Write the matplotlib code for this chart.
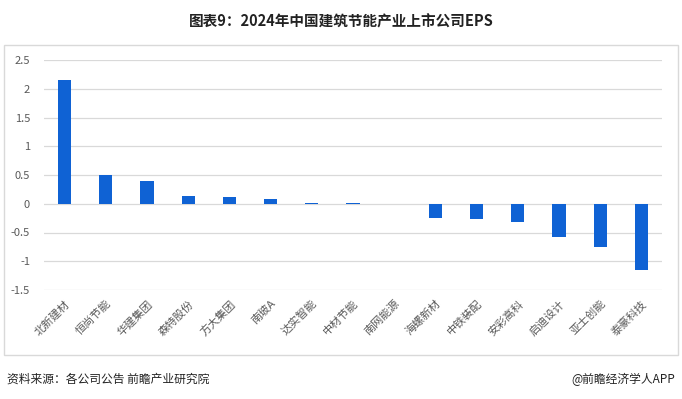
import matplotlib.pyplot as plt
import numpy as np
from matplotlib.patches import Rectangle

plt.rcParams['font.family'] = ['Noto Sans CJK SC', 'DejaVu Sans']

companies = ['北新建材', '恒尚节能', '华建集团', '森特股份', '方大集团', '南玻A', '达实智能',
             '中材节能', '南网能源', '海螺新材', '中铁装配', '安彩高科', '启迪设计', '亚士创能', '泰豪科技']
eps = [2.15, 0.50, 0.40, 0.14, 0.12, 0.09, 0.02, 0.02, 0.0, -0.24, -0.26, -0.31, -0.57, -0.76, -1.16]
yticks = [-1.5, -1, -0.5, 0, 0.5, 1, 1.5, 2, 2.5]

W, H = 682, 399
fig = plt.figure(figsize=(W / 100, H / 100), dpi=100)

# outer frame
fig.patches.append(Rectangle((4 / W, 1 - 355 / H), 674 / W, 310 / H, transform=fig.transFigure,
                             fill=False, edgecolor='#D9D9D9', linewidth=1))

fig.text(0.5, 1 - 22 / H, '图表9：2024年中国建筑节能产业上市公司EPS', ha='center', va='center',
         fontsize=10.5, fontweight='bold', color='#222222')

ax = fig.add_axes([44 / W, 1 - 290 / H, 618 / W, 230 / H])
x = np.arange(len(companies))
ax.bar(x, eps, width=0.32, color='#0F62D4', zorder=3)
ax.set_xlim(-0.5, len(companies) - 0.5)
ax.set_ylim(-1.5, 2.5)
ax.set_yticks(yticks)
ax.set_yticklabels([f'{v:g}' for v in yticks], fontsize=8, color='#595959')
ax.yaxis.grid(True, color='#D9D9D9', linewidth=0.9, zorder=0)
for s in ax.spines.values():
    s.set_visible(False)
ax.tick_params(axis='both', length=0)
ax.tick_params(axis='y', pad=10)
ax.set_xticks(x)
ax.set_xticklabels(companies, rotation=45, ha='right', va='top', rotation_mode='anchor',
                   fontsize=8, color='#595959')
ax.tick_params(axis='x', pad=6)

fig.text(7 / W, 1 - 379 / H, '资料来源：各公司公告 前瞻产业研究院', ha='left', va='center',
         fontsize=8.5, color='#222222')
fig.text(675 / W, 1 - 379 / H, '@前瞻经济学人APP', ha='right', va='center',
         fontsize=8.5, color='#222222')

fig.savefig('out.png', dpi=100)
